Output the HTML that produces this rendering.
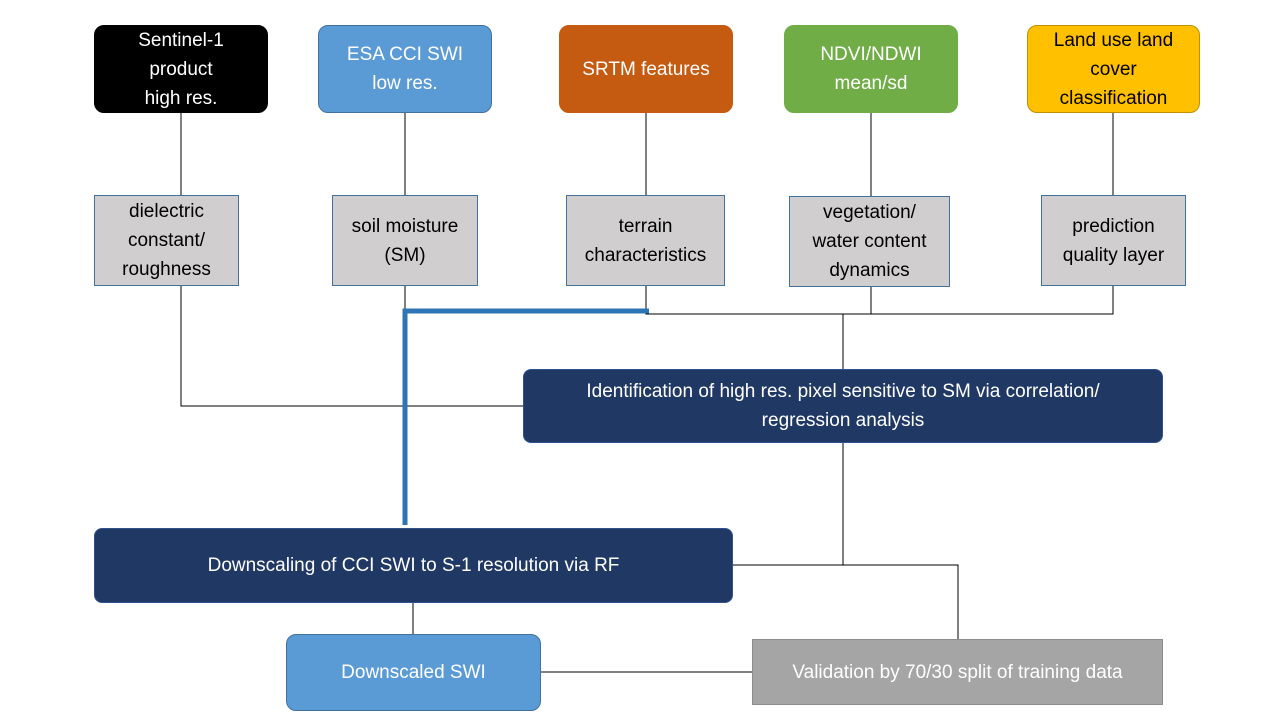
<!DOCTYPE html>
<html><head><style>
body{margin:0;width:1280px;height:720px;background:#fff;position:relative;overflow:hidden;font-family:"Liberation Sans",sans-serif}
.b{position:absolute;box-sizing:border-box;display:flex;align-items:center;justify-content:center;text-align:center;font-size:19px;line-height:29px}
.t{border-radius:10px;color:#fff;border:1px solid #41719c}
.g{background:#d0cece;border:1px solid #41719c;color:#000}
.n{background:#203864;color:#fff;border-radius:8px;border:1px solid #2f528f}
svg{position:absolute;left:0;top:0}
</style></head><body>
<svg width="1280" height="720">
<g stroke="#000" stroke-width="1" fill="none">
<path d="M181 113V195M405 113V195M646 113V195M871 113V196M1113 113V195"/>
<path d="M181 286V406H523M405 286V310M646 286V314H1113V286M871 287V314M843 314V369"/>
<path d="M843 443V565H958V639M733 565H843M413 603V634M541 672H752"/>
</g>
<path d="M405 525V311H649" stroke="#2e75b6" stroke-width="5" fill="none"/>
</svg>
<div class="b t" style="left:94px;top:25px;width:174px;height:88px;background:#000;border-color:#000">Sentinel-1<br>product<br>high res.</div>
<div class="b t" style="left:318px;top:25px;width:174px;height:88px;background:#5b9bd5">ESA CCI SWI<br>low res.</div>
<div class="b t" style="left:559px;top:25px;width:174px;height:88px;background:#c55a11;border-color:#c55a11">SRTM features</div>
<div class="b t" style="left:784px;top:25px;width:174px;height:88px;background:#70ad47;border-color:#70ad47">NDVI/NDWI<br>mean/sd</div>
<div class="b t" style="left:1027px;top:25px;width:173px;height:88px;background:#ffc000;color:#000;border-color:#bf9000">Land use land<br>cover<br>classification</div>
<div class="b g" style="left:94px;top:195px;width:145px;height:91px">dielectric<br>constant/<br>roughness</div>
<div class="b g" style="left:332px;top:195px;width:146px;height:91px">soil moisture<br>(SM)</div>
<div class="b g" style="left:566px;top:195px;width:159px;height:91px">terrain<br>characteristics</div>
<div class="b g" style="left:789px;top:196px;width:161px;height:91px">vegetation/<br>water content<br>dynamics</div>
<div class="b g" style="left:1041px;top:195px;width:145px;height:91px">prediction<br>quality layer</div>
<div class="b n" style="left:523px;top:369px;width:640px;height:74px">Identification of high res. pixel sensitive to SM via correlation/<br>regression analysis</div>
<div class="b n" style="left:94px;top:528px;width:639px;height:75px">Downscaling of CCI SWI to S-1 resolution via RF</div>
<div class="b t" style="left:286px;top:634px;width:255px;height:77px;background:#5b9bd5">Downscaled SWI</div>
<div class="b" style="left:752px;top:639px;width:411px;height:66px;background:#a5a5a5;color:#fff;border:1px solid #8c8c8c">Validation by 70/30 split of training data</div>
</body></html>
